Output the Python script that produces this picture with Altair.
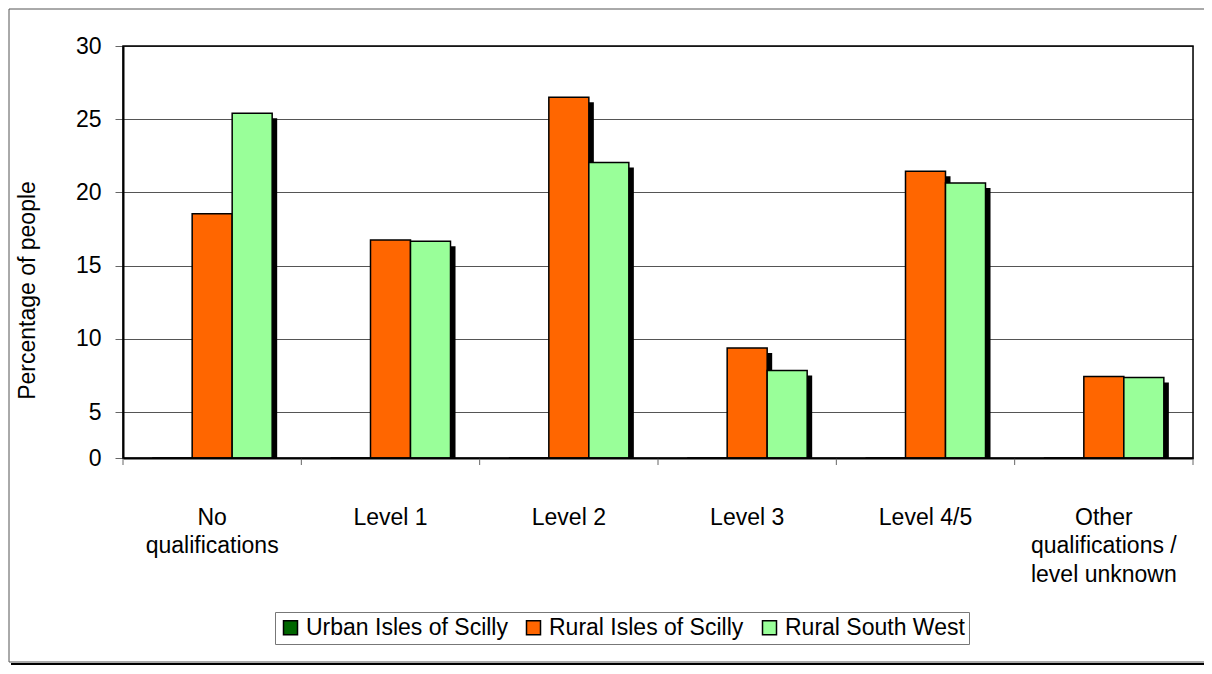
import altair as alt
import pandas as pd

categories = ["No qualifications", "Level 1", "Level 2", "Level 3", "Level 4/5",
              "Other qualifications / level unknown"]
category_lines = [["No", "qualifications"], ["Level 1"], ["Level 2"], ["Level 3"],
                  ["Level 4/5"], ["Other", "qualifications /", "level unknown"]]
series = ["Urban Isles of Scilly", "Rural Isles of Scilly", "Rural South West"]
urban_scilly = [0, 0, 0, 0, 0, 0]
rural_scilly = [18.55, 16.75, 26.5, 9.37, 21.45, 7.43]
rural_south_west = [25.4, 16.67, 22.05, 7.84, 20.65, 7.36]
colors = ["#006600", "#FF6600", "#99FF99"]
y_ticks = [0, 5, 10, 15, 20, 25, 30]

W, H = 1070, 412
FONT = "Liberation Sans"

rows = []
for s, vals in zip(series, [urban_scilly, rural_scilly, rural_south_west]):
    for c, v in zip(categories, vals):
        rows.append({"category": c, "series": s, "value": v})
df = pd.DataFrame(rows)

# multi-line label expression
expr = "datum.label"
for c, lines in reversed(list(zip(categories, category_lines))):
    arr = "[" + ",".join("'" + l + "'" for l in lines) + "]"
    expr = f"datum.label == '{c}' ? {arr} : ({expr})"

x_scale = alt.Scale(paddingInner=0, paddingOuter=0)
x_axis = alt.Axis(title=None, labelExpr=expr, labelFontSize=23, labelFont=FONT,
                  labelColor="black", labelLineHeight=28.5, labelPadding=48,
                  ticks=False, tickSize=0, domain=True, domainColor="black",
                  domainWidth=2, labelAngle=0, labelLimit=400, grid=False)
x_enc = alt.X("category:N", sort=categories, scale=x_scale, axis=x_axis)
xoff_enc = alt.XOffset("series:N", sort=series,
                       scale=alt.Scale(domain=series, paddingInner=0, paddingOuter=0.729))
xoff_shadow = alt.XOffset("series:N", sort=series,
                          scale=alt.Scale(domain=series, paddingInner=0,
                                          paddingOuter=0.729, align=0.586))
y_scale = alt.Scale(domain=[0, 5, 30], range=[412, 366, 0], nice=False, zero=False)
y_axis = alt.Axis(title="Percentage of people", values=y_ticks,
                  titleFont=FONT, titleFontSize=23, titleFontWeight="normal",
                  titleColor="black", titleX=-96, titleY=244, titleAngle=-90,
                  titleAlign="center", titleBaseline="middle",
                  labelFont=FONT, labelFontSize=23, labelColor="black",
                  labelPadding=14, tickSize=8, tickColor="#666666",
                  domainColor="black", domainWidth=2,
                  grid=True, gridColor="#555555", gridWidth=1)
y_enc = alt.Y("value:Q", scale=y_scale, axis=y_axis)

color_enc = alt.Color("series:N", sort=series,
                      scale=alt.Scale(domain=series, range=colors),
                      legend=alt.Legend(title=None, orient="none", direction="horizontal",
                                        legendX=152, legendY=566, symbolType="square",
                                        symbolSize=196, symbolStrokeColor="black",
                                        symbolStrokeWidth=1.5, labelFont=FONT,
                                        labelFontSize=23, labelColor="black",
                                        labelOffset=4, columnPadding=14, padding=4,
                                        labelLimit=400,
                                        fillColor="white", strokeColor="#777777",
                                        symbolOpacity=1))

shadows = alt.Chart(df).transform_filter("datum.value > 0").mark_bar(
    color="black", yOffset=5, y2Offset=0
).encode(x=x_enc, xOffset=xoff_shadow, y=y_enc, y2=alt.Y2(datum=0))

bars = alt.Chart(df).mark_bar(stroke="black", strokeWidth=1.5, opacity=1).encode(
    x=x_enc, xOffset=xoff_enc, y=y_enc, color=color_enc
)

tick_df = pd.DataFrame({"category": categories})
ticks_start = alt.Chart(tick_df).mark_rule(color="#666666", strokeWidth=1).encode(
    x=alt.X("category:N", sort=categories, bandPosition=0),
    y=alt.value(H), y2=alt.value(H + 7)
)
ticks_end = alt.Chart(tick_df).transform_filter(
    alt.datum.category == categories[-1]
).mark_rule(color="#666666", strokeWidth=1).encode(
    x=alt.X("category:N", sort=categories, bandPosition=1),
    y=alt.value(H), y2=alt.value(H + 7)
)

one = pd.DataFrame({"a": [0]})
frame = alt.Chart(one).mark_rect(fill="transparent", stroke="black", strokeWidth=1.5).encode(
    x=alt.value(0), x2=alt.value(W), y=alt.value(0), y2=alt.value(H)
)
border = alt.Chart(one).mark_rect(fill="transparent", stroke="#555555", strokeWidth=1).encode(
    x=alt.value(-114), x2=alt.value(1095), y=alt.value(-37), y2=alt.value(616)
)
border_shadow = alt.Chart(one).mark_rule(color="black", strokeWidth=2).encode(
    x=alt.value(-112), x2=alt.value(1095), y=alt.value(618)
)

chart = alt.layer(shadows, bars, ticks_start, ticks_end, frame, border, border_shadow).resolve_scale(
    xOffset="independent"
).properties(
    width=W, height=H,
    autosize=alt.AutoSizeParams(type="none"),
    padding={"left": 115, "top": 38, "right": 11, "bottom": 208},
).configure_view(stroke=None).configure(background="white")

chart.save("out.html", embed_options={"renderer": "svg", "actions": False})
